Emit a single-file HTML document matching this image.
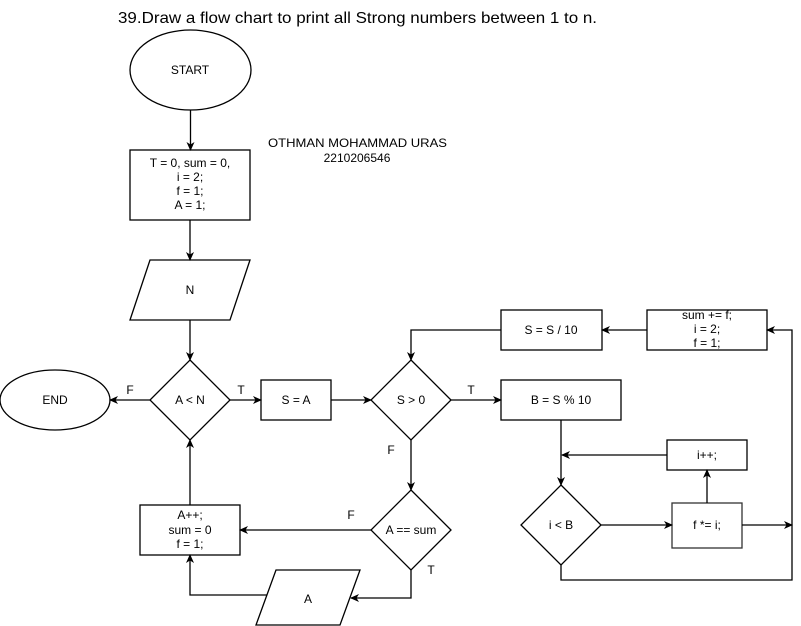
<!DOCTYPE html>
<html><head><style>
body{margin:0;background:#fff;}
svg{display:block;font-family:"Liberation Sans",Arial,sans-serif;}
</style></head><body>
<svg width="801" height="626" viewBox="0 0 801 626">
<defs><marker id="a" markerWidth="10" markerHeight="10" refX="8" refY="5" orient="auto" markerUnits="userSpaceOnUse"><path d="M0,1 L9,5 L0,9 L2.5,5 Z" fill="#000"/></marker></defs>
<g fill="none" stroke="#000" stroke-width="1.3">
<ellipse cx="190.5" cy="70" rx="60.5" ry="40" fill="#fff"/>
<rect x="130" y="150" width="120" height="70" fill="#fff"/>
<polygon points="150,260 250,260 230,320 130,320" fill="#fff"/>
<ellipse cx="55" cy="400" rx="55" ry="30" fill="#fff"/>
<polygon points="190,360 230,400 190,440 150,400" fill="#fff"/>
<rect x="261" y="380" width="70" height="40"/>
<polygon points="411,360 451,400 411,440 371,400"/>
<polygon points="411,490 451,530 411,570 371,530"/>
<rect x="140" y="505" width="100" height="50"/>
<polygon points="276,570 360,570 340,625 256,625"/>
<rect x="501" y="310" width="101" height="40"/>
<rect x="647" y="310" width="120" height="40"/>
<rect x="501" y="380" width="120" height="40"/>
<rect x="667" y="440" width="80" height="30"/>
<polygon points="561,485 601,525 561,565 521,525"/>
<rect x="672" y="503" width="70" height="45" stroke="#333"/>
<g marker-end="url(#a)">
<path d="M190.5,110 V150"/>
<path d="M190,220 V260"/>
<path d="M190,320 V360"/>
<path d="M150,400 H110"/>
<path d="M230,400 H261"/>
<path d="M331,400 H371"/>
<path d="M451,400 H501"/>
<path d="M411,440 V490"/>
<path d="M371,530 H240"/>
<path d="M411,570 V598 H351"/>
<path d="M267,595 H190 V555"/>
<path d="M190,505 V440"/>
<path d="M647,330 H602"/>
<path d="M501,330 H411 V360"/>
<path d="M561,420 V485"/>
<path d="M667,455 H562"/>
<path d="M601,525 H672"/>
<path d="M707,503 V470"/>
<path d="M742,525 H792"/>
<path d="M561,565 V580 H792 V330 H767"/>
</g>
</g>
<g font-size="12" text-anchor="middle" fill="#000">
<text x="118" y="23" font-size="16" text-anchor="start" textLength="479" lengthAdjust="spacingAndGlyphs">39.Draw a flow chart to print all Strong numbers between 1 to n.</text>
<text x="190" y="74">START</text>
<text x="190" y="167">T = 0, sum = 0,</text>
<text x="190" y="181">i = 2;</text>
<text x="190" y="195">f = 1;</text>
<text x="190" y="209">A = 1;</text>
<text x="268" y="147" text-anchor="start" textLength="179" lengthAdjust="spacingAndGlyphs">OTHMAN MOHAMMAD URAS</text>
<text x="357" y="162">2210206546</text>
<text x="190" y="294">N</text>
<text x="55" y="404">END</text>
<text x="190" y="404">A &lt; N</text>
<text x="296" y="404">S = A</text>
<text x="411" y="404">S &gt; 0</text>
<text x="411" y="534">A == sum</text>
<text x="190" y="519">A++;</text>
<text x="190" y="534">sum = 0</text>
<text x="190" y="548">f = 1;</text>
<text x="308" y="603">A</text>
<text x="551" y="334">S = S / 10</text>
<text x="707" y="319">sum += f;</text>
<text x="707" y="333">i = 2;</text>
<text x="707" y="347">f = 1;</text>
<text x="561" y="404">B = S % 10</text>
<text x="707" y="459">i++;</text>
<text x="561" y="529">i &lt; B</text>
<text x="707" y="529">f *= i;</text>
<text x="130" y="394">F</text>
<text x="241" y="394">T</text>
<text x="471" y="394">T</text>
<text x="391" y="454">F</text>
<text x="351" y="519">F</text>
<text x="431" y="574">T</text>
</g>
</svg>
</body></html>
